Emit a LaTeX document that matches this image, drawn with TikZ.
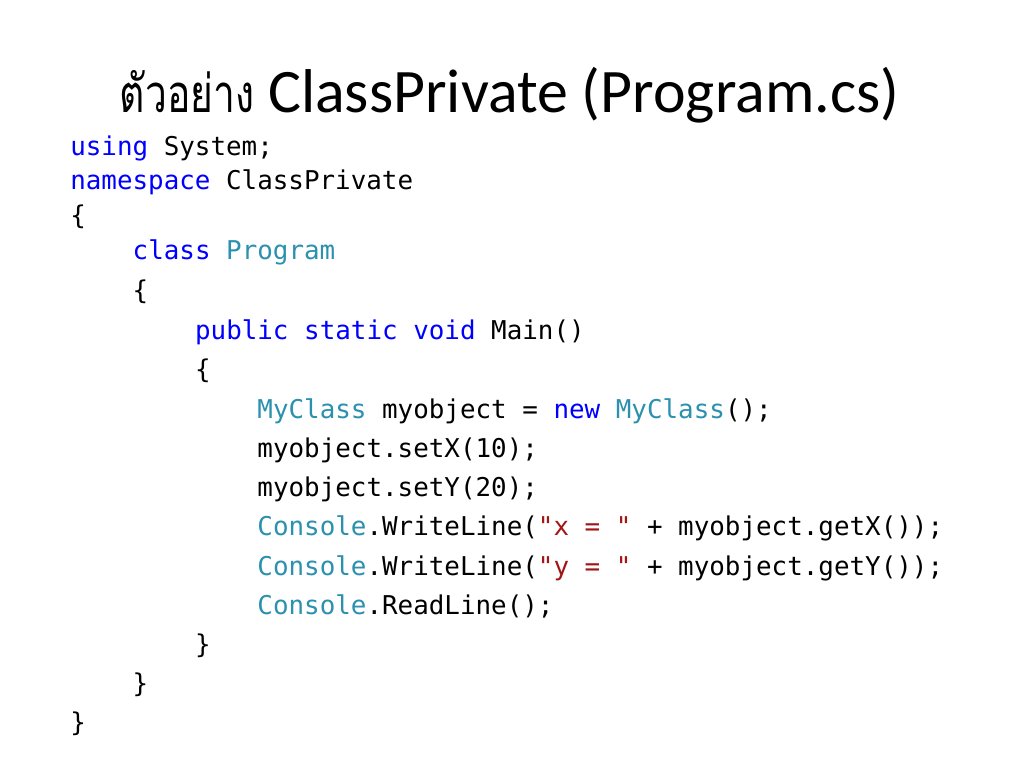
\documentclass[tikz,border=0pt]{standalone}
\usepackage{fontspec}
\setmainfont{Carlito}
\setmonofont{DejaVu Sans Mono}
\newfontfamily\thaifont[Script=Thai]{Loma}
\definecolor{kwblue}{RGB}{0,0,255}
\definecolor{typeteal}{RGB}{43,145,175}
\definecolor{strred}{RGB}{163,21,21}
\newcommand{\kwd}[1]{\textcolor{kwblue}{#1}}
\newcommand{\typ}[1]{\textcolor{typeteal}{#1}}
\newcommand{\strg}[1]{\textcolor{strred}{#1}}
\tikzset{
    heading/.style={anchor=base, inner sep=0pt, font=\fontsize{43.5}{50}\selectfont},
    code/.style={anchor=base west, inner sep=0pt, font=\ttfamily\fontsize{18.2}{20}\selectfont}
}

\begin{document}
\begin{tikzpicture}[x=0.703125pt, y=-0.703125pt]
    \fill[white] (0,0) rectangle (1024,768);
    \useasboundingbox (0,0) rectangle (1024,768);

    \node[heading] (title) at (509.5,113) {\scalebox{0.74}[1]{\thaifont\fontsize{37}{40}\selectfont ตัวอย่าง} ClassPrivate (Program.cs)};

    \node[code] (l1) at (70,156) {\kwd{using} System;};
    \node[code] (l2) at (70,190) {\kwd{namespace} ClassPrivate};
    \node[code] (l3) at (70,225) {\{};
    \node[code] (l4) at (132.4,260) {\kwd{class} \typ{Program}};
    \node[code] (l5) at (132.4,299) {\{};
    \node[code] (l6) at (194.8,339) {\kwd{public} \kwd{static} \kwd{void} Main()};
    \node[code] (l7) at (194.8,378) {\{};
    \node[code] (l8) at (257.2,418) {\typ{MyClass} myobject = \kwd{new} \typ{MyClass}();};
    \node[code] (l9) at (257.2,457) {myobject.setX(10);};
    \node[code] (l10) at (257.2,496) {myobject.setY(20);};
    \node[code] (l11) at (257.2,535) {\typ{Console}.WriteLine(\strg{"x = "} + myobject.getX());};
    \node[code] (l12) at (257.2,575) {\typ{Console}.WriteLine(\strg{"y = "} + myobject.getY());};
    \node[code] (l13) at (257.2,614) {\typ{Console}.ReadLine();};
    \node[code] (l14) at (194.8,653) {\}};
    \node[code] (l15) at (132.4,692) {\}};
    \node[code] (l16) at (70,731) {\}};
\end{tikzpicture}
\end{document}
